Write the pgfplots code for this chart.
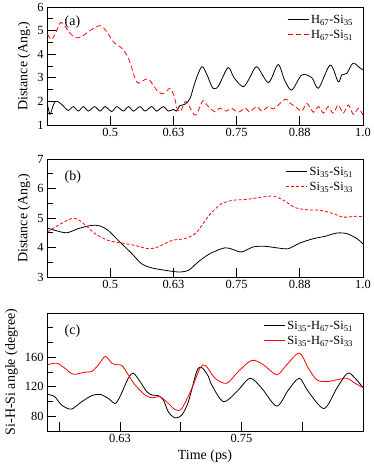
\documentclass[border=0pt]{standalone}
\usepackage{fontspec}
\setmainfont{Liberation Serif}
\usepackage{pgfplots}
\pgfplotsset{compat=1.18}

\pgfplotsset{
  panel/.style={
    scale only axis, width=316bp, height=118bp,
    xmin=0.375, xmax=1.0,
    tick pos=left, tick align=inside,
    major tick length=9bp, minor tick length=6bp,
    axis line style={line width=0.8bp},
    every tick/.style={black, line width=0.8bp},
    tick label style={font=\fontsize{12.5}{14}\selectfont},
    label style={font=\fontsize{14}{16}\selectfont},
    /pgf/number format/assume math mode=true,
    legend cell align=left,
    legend style={draw=none, fill=none, font=\fontsize{12.5}{14}\selectfont,
      at={(0.985,0.965)}, anchor=north east, row sep=1bp},
    legend image code/.code={\draw[##1, line width=1.2bp] (0bp,0.3bp) -- (21bp,0.3bp);},
  },
}

\begin{document}
\begin{tikzpicture}
% (a)
\begin{axis}[panel, at={(0,0)},
  ymin=1, ymax=6, ytick={1,2,3,4,5,6}, minor y tick num=1,
  xtick={0.5,0.625,0.75,0.875,1.0},
  xticklabels={0.5,0.63,0.75,0.88,1.0},
  ylabel={Distance (Ang.)}]
\addplot[draw=black, line width=0.8bp, smooth] coordinates {
(0.376,1.85) (0.381,1.45) (0.386,1.75) (0.391,1.99) (0.397,1.99) (0.405,1.85)
(0.417,1.62) (0.427,1.78) (0.437,1.59) (0.447,1.78) (0.457,1.59) (0.469,1.78)
(0.480,1.59) (0.490,1.78) (0.503,1.57) (0.513,1.78) (0.526,1.59) (0.536,1.78)
(0.546,1.59) (0.559,1.78) (0.569,1.59) (0.582,1.78) (0.592,1.59) (0.605,1.78)
(0.615,1.59) (0.625,1.66) (0.631,1.59) (0.638,1.82) (0.648,1.88) (0.658,2.13)
(0.668,2.83) (0.681,3.47) (0.691,3.15) (0.703,2.56) (0.714,2.65) (0.733,3.43)
(0.745,3.0) (0.763,2.62) (0.776,3.0) (0.790,3.47) (0.813,2.80) (0.832,3.56)
(0.845,2.9) (0.859,2.48) (0.879,3.12) (0.899,3.0) (0.912,2.56) (0.935,3.54)
(0.951,2.83) (0.958,3.12) (0.968,3.19) (0.980,3.62) (0.991,3.47) (1.0,3.33)};
\addlegendentry{H\textsubscript{67}-Si\textsubscript{35}}
\addplot[draw=red, line width=0.8bp, smooth, dash pattern=on 5bp off 3bp] coordinates {
(0.376,4.85) (0.384,4.62) (0.393,4.95) (0.402,5.35) (0.410,5.2) (0.420,4.9)
(0.432,4.7) (0.444,4.75) (0.460,5.0) (0.480,5.21) (0.493,4.96) (0.506,4.53)
(0.523,4.25) (0.536,3.83) (0.549,3.0) (0.556,2.77) (0.575,2.95) (0.595,2.40)
(0.607,2.35) (0.618,2.55) (0.626,2.25) (0.633,1.65) (0.640,1.6) (0.650,2.0)
(0.668,1.42) (0.683,2.02) (0.691,1.85) (0.707,1.56) (0.717,1.71) (0.730,1.59)
(0.740,1.71) (0.753,1.54) (0.767,1.71) (0.776,1.56) (0.790,1.78) (0.800,1.59)
(0.813,1.78) (0.823,1.68) (0.846,2.09) (0.856,1.92) (0.866,1.78) (0.879,1.59)
(0.889,1.92) (0.902,1.54) (0.912,1.78) (0.922,1.50) (0.931,1.78) (0.941,1.50)
(0.951,1.85) (0.961,1.50) (0.971,1.85) (0.981,1.45) (0.991,1.71) (1.0,1.42)};
\addlegendentry{H\textsubscript{67}-Si\textsubscript{51}}
\node[anchor=west, font=\fontsize{14}{16}\selectfont] at (rel axis cs:0.045,0.87) {(a)};
\end{axis}
% (b)
\begin{axis}[panel, at={(0,-152bp)},
  ymin=3, ymax=7, ytick={3,4,5,6,7}, minor y tick num=1,
  xtick={0.5,0.625,0.75,0.875,1.0},
  xticklabels={0.5,0.63,0.75,0.88,1.0},
  ylabel={Distance (Ang.)}]
\addplot[draw=black, line width=0.8bp, smooth] coordinates {
(0.376,4.66) (0.391,4.58) (0.414,4.50) (0.437,4.64) (0.463,4.75) (0.480,4.73)
(0.496,4.58) (0.516,4.24) (0.543,3.79) (0.562,3.45) (0.582,3.31) (0.608,3.23)
(0.635,3.17) (0.655,3.23) (0.674,3.51) (0.697,3.79) (0.727,3.99) (0.743,3.93)
(0.760,3.85) (0.783,4.02) (0.806,4.04) (0.829,3.99) (0.852,3.96) (0.875,4.15)
(0.902,4.30) (0.925,4.38) (0.948,4.49) (0.968,4.47) (0.988,4.30) (1.0,4.12)};
\addlegendentry{Si\textsubscript{35}-Si\textsubscript{51}}
\addplot[draw=red, line width=0.8bp, smooth, dash pattern=on 3bp off 2bp] coordinates {
(0.376,4.53) (0.397,4.75) (0.427,5.0) (0.444,4.86) (0.470,4.47) (0.496,4.24)
(0.523,4.15) (0.549,4.07) (0.575,3.96) (0.595,4.02) (0.622,4.24) (0.648,4.30)
(0.668,4.47) (0.680,4.72) (0.697,5.12) (0.720,5.48) (0.743,5.60) (0.770,5.63)
(0.800,5.71) (0.823,5.74) (0.843,5.60) (0.866,5.35) (0.889,5.28) (0.915,5.26)
(0.941,5.15) (0.961,5.03) (0.988,5.06) (1.0,5.03)};
\addlegendentry{Si\textsubscript{35}-Si\textsubscript{33}}
\node[anchor=west, font=\fontsize{14}{16}\selectfont] at (rel axis cs:0.045,0.85) {(b)};
\end{axis}
% (c)
\begin{axis}[panel, at={(0,-306bp)},
  xmin=0.55, xmax=0.875,
  ymin=60, ymax=220, ytick={80,120,160}, minor ytick={100,140,180,200},
  xtick={0.5625,0.625,0.6875,0.75,0.8125},
  xticklabels={{},0.63,{},0.75,{}},
  xlabel={Time (ps)},
  ylabel={Si-H-Si angle (degree)}]
\addplot[draw=black, line width=0.8bp, smooth] coordinates {
(0.5507,109.7) (0.558,106.5) (0.565,95.2) (0.575,89.7) (0.5857,99.7) (0.596,107.9)
(0.6045,109.7) (0.613,104.2) (0.620,97.3) (0.625,106.5) (0.6336,131.5) (0.6388,138.4)
(0.6457,127) (0.6526,113.4) (0.658,108.8) (0.6645,107.9) (0.6697,102) (0.6748,86)
(0.6817,77.8) (0.6886,81.5) (0.6954,99.7) (0.7040,140.7) (0.7090,146.2) (0.716,134)
(0.7194,122.5) (0.7315,99.7) (0.7452,113.4) (0.7588,131.5) (0.7709,117.9) (0.7863,93.8)
(0.7983,115.7) (0.8095,131.5) (0.8188,113.4) (0.8350,90.5) (0.848,117.9) (0.8590,138.4)
(0.8669,131.5) (0.875,118.8)};
\addlegendentry{Si\textsubscript{35}-H\textsubscript{67}-Si\textsubscript{51}}
\addplot[draw=red, line width=0.8bp, smooth] coordinates {
(0.5507,149.9) (0.560,152) (0.5685,145) (0.577,137) (0.589,139.8) (0.596,140.7)
(0.603,149.9) (0.610,161.2) (0.6166,152.1) (0.6217,149.9) (0.627,148.9) (0.6336,136.2)
(0.6405,122.5) (0.651,108.8) (0.658,105.1) (0.6663,106.5) (0.673,99.7) (0.6817,89.1)
(0.6886,90.5) (0.699,117.9) (0.7074,145.2) (0.713,149) (0.7228,131.5) (0.7349,124.7)
(0.7468,140.7) (0.7606,155.8) (0.7725,149.9) (0.7863,136.2) (0.7966,149.9) (0.8095,165.7)
(0.8188,145.2) (0.8275,129.4) (0.8378,127) (0.848,129.4) (0.8583,131.5) (0.8669,124.7)
(0.875,118.8)};
\addlegendentry{Si\textsubscript{35}-H\textsubscript{67}-Si\textsubscript{33}}
\node[anchor=west, font=\fontsize{14}{16}\selectfont] at (rel axis cs:0.045,0.85) {(c)};
\end{axis}
\pgfresetboundingbox
\path[use as bounding box] (-47bp,-342bp) rectangle (327bp,125bp);
\end{tikzpicture}
\end{document}
